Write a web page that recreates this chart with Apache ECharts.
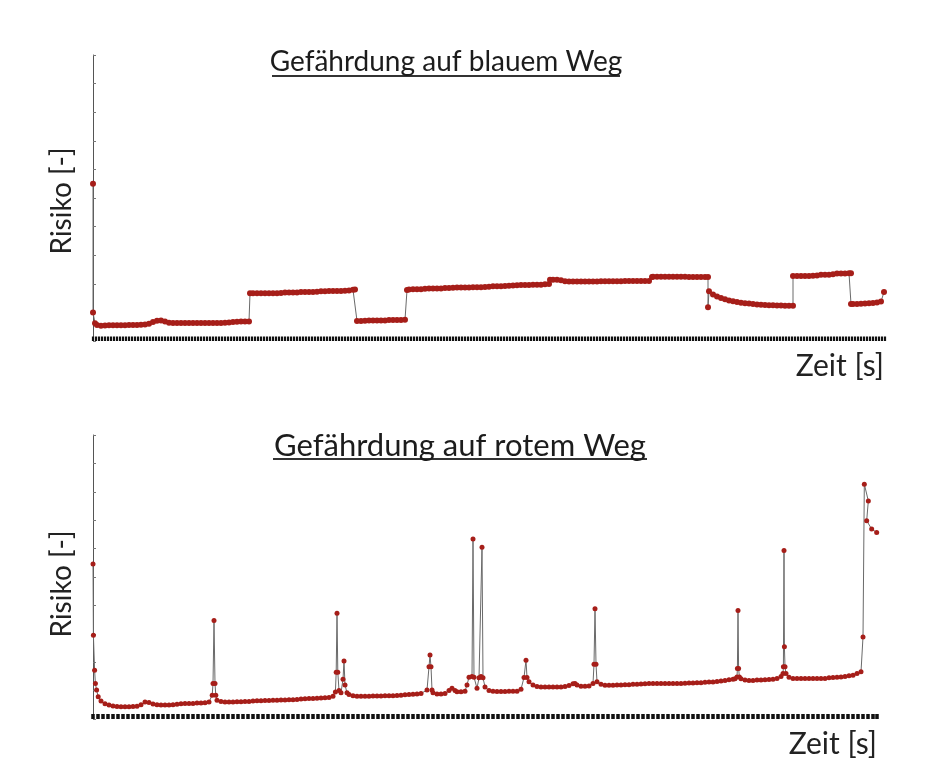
<!DOCTYPE html>
<html>
<head>
<meta charset="utf-8">
<script src="https://cdn.jsdelivr.net/npm/echarts@6/dist/echarts.min.js"></script>
<style>
html,body{margin:0;padding:0;background:#fff;}
#main{width:930px;height:784px;}
</style>
</head>
<body>
<div id="main"></div>
<script>
// Titles and axis names
const titleBlue = 'Gefährdung auf blauem Weg';
const titleRed = 'Gefährdung auf rotem Weg';
const yName = 'Risiko [-]';
const xName = 'Zeit [s]';

// Top chart: risk on blue route, [time, risk] samples
const blueRisk = [
[0,5.5],[0,1.0],[0.5,0.62],[1,0.56],[2,0.53],[3,0.54],[4,0.55],[5,0.55],[6,0.55],[7,0.55],[8,0.55],[9,0.56],[10,0.56],[11,0.56],[12,0.57],[13,0.58],[14,0.6],[15,0.66],[16,0.71],[17,0.72],[18,0.68],[19,0.64],[20,0.63],[21,0.63],[22,0.63],[23,0.63],[24,0.63],[25,0.63],[26,0.63],[27,0.63],[28,0.63],[29,0.63],[30,0.63],[31,0.63],[32,0.63],[33,0.64],[34,0.65],[35,0.66],[36,0.67],[37,0.68],[38,0.68],[39,0.68],
[39.25,1.67],[40,1.67],[41,1.67],[42,1.67],[43,1.67],[44,1.67],[45,1.67],[46,1.67],[47,1.68],[48,1.7],[49,1.7],[50,1.7],[51,1.7],[52,1.71],[53,1.71],[54,1.71],[55,1.71],[56,1.72],[57,1.74],[58,1.74],[59,1.75],[60,1.75],[61,1.75],[62,1.75],[63,1.76],[64,1.77],[65,1.79],[65.5,1.8],
[66,0.7],[67,0.7],[68,0.71],[69,0.72],[70,0.72],[71,0.72],[72,0.72],[73,0.72],[74,0.73],[75,0.73],[76,0.73],[77,0.73],[78,0.74],
[78.5,1.78],[79,1.8],[80,1.81],[81,1.81],[82,1.81],[83,1.83],[84,1.84],[85,1.84],[86,1.84],[87,1.84],[88,1.85],[89,1.85],[90,1.86],[91,1.87],[92,1.87],[93,1.87],[94,1.87],[95,1.88],[96,1.88],[97,1.88],[98,1.89],[99,1.9],[100,1.91],[101,1.91],[102,1.91],[103,1.92],[104,1.93],[105,1.94],[106,1.95],[107,1.96],[108,1.96],[109,1.96],[110,1.97],[111,1.97],[112,1.97],[113,1.98],[114,1.99],
[114.25,2.14],[115,2.14],[116,2.14],[117,2.12],[118,2.09],[119,2.08],[120,2.08],[121,2.08],[122,2.08],[123,2.08],[124,2.08],[125,2.08],[126,2.08],[127,2.09],[128,2.09],[129,2.09],[130,2.09],[131,2.09],[132,2.09],[133,2.1],[134,2.1],[135,2.1],[136,2.1],[137,2.1],[138,2.1],[139,2.1],
[139.75,2.24],[140,2.25],[141,2.25],[142,2.25],[143,2.25],[144,2.25],[145,2.25],[146,2.25],[147,2.25],[148,2.25],[149,2.24],[150,2.24],[151,2.24],[152,2.24],[153,2.24],[153.75,2.24],
[153.75,1.18],[154,1.74],[155,1.63],[156,1.56],[157,1.5],[158,1.46],[159,1.42],[160,1.39],[161,1.36],[162,1.34],[163,1.32],[164,1.31],[165,1.29],[166,1.28],[167,1.27],[168,1.26],[169,1.25],[170,1.25],[171,1.24],[172,1.24],[173,1.23],[174,1.23],[175,1.23],
[175,2.27],[176,2.27],[177,2.27],[178,2.27],[179,2.27],[180,2.28],[181,2.29],[182,2.32],[183,2.32],[184,2.32],[185,2.33],[186,2.36],[187,2.36],[188,2.36],[189,2.37],[189.5,2.37],
[189.5,1.29],[190,1.29],[191,1.29],[192,1.3],[193,1.31],[194,1.32],[195,1.33],[196,1.35],[197,1.38],[197.75,1.71]
];

// Bottom chart: risk on red route, [time, risk] samples
const redRisk = [
[0,5.46],[0.1,2.95],[0.4,1.72],[0.6,1.25],[0.9,1.02],[1.3,0.78],[2,0.63],[3,0.54],[4,0.49],[5,0.46],[6,0.44],[7,0.43],[8,0.43],[9,0.43],[10,0.44],[11,0.45],[12,0.5],[13,0.6],[14,0.58],[15,0.53],[16,0.5],[17,0.49],[18,0.49],[19,0.49],[20,0.5],[21,0.52],[22,0.54],[23,0.55],[24,0.55],[25,0.55],[26,0.56],[27,0.56],[28,0.57],[29,0.6],
[29.8,0.84],[30,1.25],[30.25,3.47],[30.5,1.25],[30.7,0.84],[31,0.66],[32,0.62],[33,0.6],[34,0.6],[35,0.6],[36,0.61],[37,0.61],[38,0.62],[39,0.62],[40,0.63],[41,0.64],[42,0.64],[43,0.65],[44,0.65],[45,0.66],[46,0.66],[47,0.67],[48,0.67],[49,0.68],[50,0.68],[51,0.69],[52,0.7],[53,0.71],[54,0.72],[55,0.72],[56,0.73],[57,0.74],[58,0.75],[59,0.76],
[60,0.8],[60.6,0.95],[60.8,1.65],[61,3.72],[61.2,1.65],[61.5,1.0],[62,0.92],[62.5,1.4],[62.75,2.04],[63,1.2],[63.5,0.92],[64,0.86],[65,0.82],[66,0.8],[67,0.8],[68,0.8],[69,0.8],[70,0.81],[71,0.81],[72,0.81],[73,0.82],[74,0.82],[75,0.82],[76,0.83],[77,0.84],[78,0.85],[79,0.86],[80,0.87],[81,0.88],[82,0.9],
[83.5,1.02],[84,1.84],[84.25,2.25],[84.5,1.84],[84.75,1.02],[85,0.92],[86,0.88],[87,0.88],[88,0.9],[89,1.0],[89.75,1.08],[90.5,1.0],[91,0.96],[92,0.96],[93,0.98],[93.5,1.2],[94,1.47],[94.75,1.5],
[95,6.34],[95.25,1.47],[96,1.08],[96.5,1.45],[97,1.5],[97.25,6.05],[97.5,1.45],[98,1.13],[99,1.0],[100,0.98],[101,0.97],[102,0.97],[103,0.97],[104,0.98],[105,0.98],[106,0.98],[107,1.05],
[107.75,1.46],[108.25,2.07],[108.5,1.46],[109,1.31],[110,1.2],[111,1.14],[112,1.13],[113,1.13],[114,1.13],[115,1.13],[116,1.13],[117,1.13],[118,1.14],[119,1.18],[120,1.24],[120.5,1.25],[121,1.2],[122,1.15],[123,1.15],[124,1.16],[125,1.25],
[125.25,1.93],[125.5,3.88],[125.75,1.93],[126,1.31],[127,1.22],[128,1.19],[129,1.19],[130,1.19],[131,1.2],[132,1.2],[133,1.21],[134,1.21],[135,1.22],[136,1.22],[137,1.23],[138,1.24],[139,1.25],[140,1.25],[141,1.25],[142,1.25],[143,1.25],[144,1.25],[145,1.25],[146,1.25],[147,1.25],[148,1.26],[149,1.27],[150,1.27],[151,1.28],[152,1.28],[153,1.29],[154,1.3],[155,1.3],[156,1.32],[157,1.34],[158,1.36],[159,1.38],[160,1.4],
[160.5,1.42],[161,1.48],[161.1,1.78],[161.25,3.82],[161.4,1.78],[161.6,1.48],[162,1.42],[163,1.37],[164,1.36],[165,1.36],[166,1.37],[167,1.37],[168,1.38],[169,1.39],[170,1.4],[171,1.43],[172,1.5],
[172.5,1.6],[172.6,1.84],[172.75,5.93],[172.85,2.54],[173,1.84],[173.25,1.6],[174,1.47],[175,1.43],[176,1.43],[177,1.43],[178,1.43],[179,1.43],[180,1.43],[181,1.43],[182,1.43],[183,1.43],[184,1.45],[185,1.46],[186,1.47],[187,1.48],[188,1.5],[189,1.52],[190,1.54],[191,1.6],[192,1.66],
[192.5,2.89],[192.83,8.27],[193.83,7.68],[193.42,6.98],[194.67,6.69],[195.92,6.57]
];

const FONT = 'Lato';
const chart = echarts.init(document.getElementById('main'));

function yAxisCfg(gi, pad) {
  return {
    type: 'value', gridIndex: gi, min: 0, max: 10, interval: 1,
    name: yName, nameLocation: 'middle', nameGap: 17,
    nameTextStyle: {fontFamily: FONT, fontSize: 28, color: '#222', padding: pad},
    axisLine: {show: true, lineStyle: {color: '#555', width: 1}},
    axisTick: {show: true, inside: true, length: 3, lineStyle: {color: '#777'}},
    axisLabel: {show: false},
    splitLine: {show: false}
  };
}
function xAxisCfg(gi, max, step, tw, tl, off, gap, pad) {
  return {
    type: 'value', gridIndex: gi, min: 0, max: max, interval: step, offset: off,
    name: xName, nameLocation: 'end', nameGap: gap,
    nameTextStyle: {fontFamily: FONT, fontSize: 30, color: '#222', align: 'right', verticalAlign: 'top', padding: pad},
    axisLine: {show: false},
    axisTick: {show: true, inside: true, length: tl, lineStyle: {color: '#111', width: tw}},
    axisLabel: {show: false}, splitLine: {show: false}
  };
}
function seriesCfg(i, data, sz) {
  return {
    type: 'line', xAxisIndex: i, yAxisIndex: i, data: data,
    showSymbol: true, showAllSymbol: true, symbol: 'circle', symbolSize: sz,
    lineStyle: {color: '#6a6a6a', width: 1},
    itemStyle: {color: '#a61e19', borderWidth: 0},
    emphasis: {disabled: true}, z: 3
  };
}

chart.setOption({
  animation: false,
  backgroundColor: '#fff',
  textStyle: {fontFamily: FONT},
  title: [
    {text: titleBlue, left: 446, top: 48, textAlign: 'center', padding: 0,
     textStyle: {fontFamily: FONT, fontSize: 28, fontWeight: 'normal', color: '#1c1c1c'}},
    {text: titleRed, left: 460, top: 430, textAlign: 'center', padding: 0,
     textStyle: {fontFamily: FONT, fontSize: 31, fontWeight: 'normal', color: '#1c1c1c'}}
  ],
  graphic: [
    {type: 'line', shape: {x1: 272, y1: 76, x2: 620, y2: 76}, style: {stroke: '#333', lineWidth: 2}},
    {type: 'line', shape: {x1: 273, y1: 459, x2: 647, y2: 459}, style: {stroke: '#333', lineWidth: 2}}
  ],
  grid: [
    {left: 93, right: 45, top: 55, bottom: 443},
    {left: 93, right: 53, top: 435, bottom: 65}
  ],
  xAxis: [
    xAxisCfg(0, 198, 0.75, 2.2, 4.5, 1, -1, [10, 0, 0, 0]),
    xAxisCfg(1, 196, 1.25, 3.5, 5, 2, 0, [10, 0, 0, 0])
  ],
  yAxis: [yAxisCfg(0, [0, 6, 0, 0]), yAxisCfg(1, [0, 14, 0, 0])],
  series: [seriesCfg(0, blueRisk, 6), seriesCfg(1, redRisk, 5)]
});
</script>
</body>
</html>
